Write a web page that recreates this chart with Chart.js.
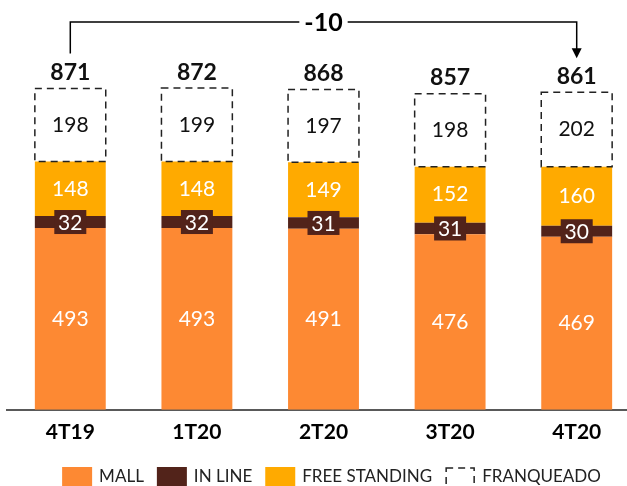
<!DOCTYPE html>
<html>
<head>
<meta charset="utf-8">
<script src="https://cdn.jsdelivr.net/npm/chart.js@4.4.1/dist/chart.umd.min.js"></script>
<style>
  html, body { margin: 0; padding: 0; overflow: hidden; background: #fff; }
  #wrap { width: 641px; height: 486px; }
</style>
</head>
<body>
<div id="wrap"><canvas id="grafico"></canvas></div>
<script>
// dados
const trimestres = ["4T19", "1T20", "2T20", "3T20", "4T20"];
const mall = [493, 493, 491, 476, 469];
const inLine = [32, 32, 31, 31, 30];
const freeStanding = [148, 148, 149, 152, 160];
const franqueado = [198, 199, 197, 198, 202];
const totais = [871, 872, 868, 857, 861];
const variacao = "-10";

const COR_MALL = "#FD8933";
const COR_INLINE = "#52231A";
const COR_FREE = "#FFAA00";
const FONTE = "Lato, 'Open Sans', sans-serif";

// rótulos, caixas tracejadas, colchete e legenda
const rotulosPlugin = {
  id: "rotulos",
  afterDatasetsDraw(chart) {
    const ctx = chart.ctx;
    const metaMall = chart.getDatasetMeta(0);
    const metaIn = chart.getDatasetMeta(1);
    const metaFree = chart.getDatasetMeta(2);
    const metaFr = chart.getDatasetMeta(3);

    ctx.save();
    ctx.textAlign = "center";
    ctx.textBaseline = "middle";

    trimestres.forEach((t, i) => {
      const bm = metaMall.data[i];
      const bi = metaIn.data[i];
      const bf = metaFree.data[i];
      const bfr = metaFr.data[i];
      const half = bm.width / 2;

      // caixa tracejada do franqueado
      ctx.setLineDash([7, 5]);
      ctx.lineWidth = 1.5;
      ctx.strokeStyle = "#222";
      ctx.strokeRect(bfr.x - half, bfr.y, bm.width, bfr.base - bfr.y);
      ctx.setLineDash([]);

      ctx.font = "21px " + FONTE;
      ctx.fillStyle = "#fff";
      ctx.fillText(mall[i], bm.x, (bm.y + bm.base) / 2);
      ctx.fillText(freeStanding[i], bf.x, (bf.y + bf.base) / 2);

      // caixinha do in line
      const yi = (bi.y + bi.base) / 2;
      ctx.fillStyle = COR_INLINE;
      ctx.fillRect(bi.x - 16, yi - 12, 32, 24);
      ctx.fillStyle = "#fff";
      ctx.fillText(inLine[i], bi.x, yi + 1);

      ctx.fillStyle = "#111";
      ctx.fillText(franqueado[i], bfr.x, (bfr.y + bfr.base) / 2);

      ctx.font = "bold 23px " + FONTE;
      ctx.fillText(totais[i], bfr.x, bfr.y - 16);
    });

    // colchete com a variação
    const x1 = metaFr.data[0].x;
    const x2 = metaFr.data[4].x;
    const yL = 22;
    ctx.strokeStyle = "#000";
    ctx.fillStyle = "#000";
    ctx.lineWidth = 1.5;
    ctx.beginPath();
    ctx.moveTo(x1, metaFr.data[0].y - 35);
    ctx.lineTo(x1, yL);
    ctx.lineTo(x2, yL);
    ctx.lineTo(x2, metaFr.data[4].y - 43);
    ctx.stroke();
    const tip = metaFr.data[4].y - 34;
    ctx.beginPath();
    ctx.moveTo(x2 - 5, tip - 10);
    ctx.lineTo(x2 + 5, tip - 10);
    ctx.lineTo(x2, tip);
    ctx.closePath();
    ctx.fill();

    ctx.font = "bold 25px " + FONTE;
    const xm = (x1 + x2) / 2;
    const w = ctx.measureText(variacao).width;
    ctx.fillStyle = "#fff";
    ctx.fillRect(xm - w / 2 - 5, yL - 12, w + 10, 24);
    ctx.fillStyle = "#000";
    ctx.fillText(variacao, xm, yL + 1);

    // legenda
    const itens = [
      { nome: "MALL", cor: COR_MALL },
      { nome: "IN LINE", cor: COR_INLINE },
      { nome: "FREE STANDING", cor: COR_FREE },
      { nome: "FRANQUEADO", cor: null }
    ];
    ctx.font = "17px " + FONTE;
    const box = 30, gapTxt = 7, gapItem = 13;
    let total = 0;
    itens.forEach(it => { it.w = ctx.measureText(it.nome).width; total += box + gapTxt + it.w; });
    total += gapItem * (itens.length - 1);
    let x = 331.5 - total / 2;
    const yTop = 467, yC = 477;
    ctx.textAlign = "left";
    itens.forEach(it => {
      if (it.cor) {
        ctx.fillStyle = it.cor;
        ctx.fillRect(x, yTop, box, 20);
      } else {
        ctx.setLineDash([7, 5]);
        ctx.strokeStyle = "#222";
        ctx.lineWidth = 1.5;
        ctx.strokeRect(x + 1, yTop + 1, box - 2, 22);
        ctx.setLineDash([]);
      }
      ctx.fillStyle = "#222";
      ctx.fillText(it.nome, x + box + gapTxt, yC);
      x += box + gapTxt + it.w + gapItem;
    });

    ctx.restore();
  }
};

new Chart(document.getElementById("grafico"), {
  type: "bar",
  data: {
    labels: trimestres,
    datasets: [
      { label: "MALL", data: mall, backgroundColor: COR_MALL },
      { label: "IN LINE", data: inLine, backgroundColor: COR_INLINE },
      { label: "FREE STANDING", data: freeStanding, backgroundColor: COR_FREE },
      { label: "FRANQUEADO", data: franqueado, backgroundColor: "rgba(255,255,255,0)" }
    ]
  },
  options: {
    responsive: true,
    maintainAspectRatio: false,
    animation: false,
    layout: { padding: { top: 4, left: 7, right: 1, bottom: 39 } },
    datasets: { bar: { barPercentage: 0.56, categoryPercentage: 1 } },
    plugins: {
      legend: { display: false },
      tooltip: { enabled: false }
    },
    scales: {
      x: {
        stacked: true,
        grid: { display: false },
        border: { display: true, color: "#595959", width: 2 },
        ticks: { color: "#000", padding: 2, font: { family: FONTE, size: 21, weight: "bold" } }
      },
      y: {
        stacked: true,
        display: false,
        min: 0,
        max: 1100
      }
    }
  },
  plugins: [rotulosPlugin]
});
</script>
</body>
</html>
